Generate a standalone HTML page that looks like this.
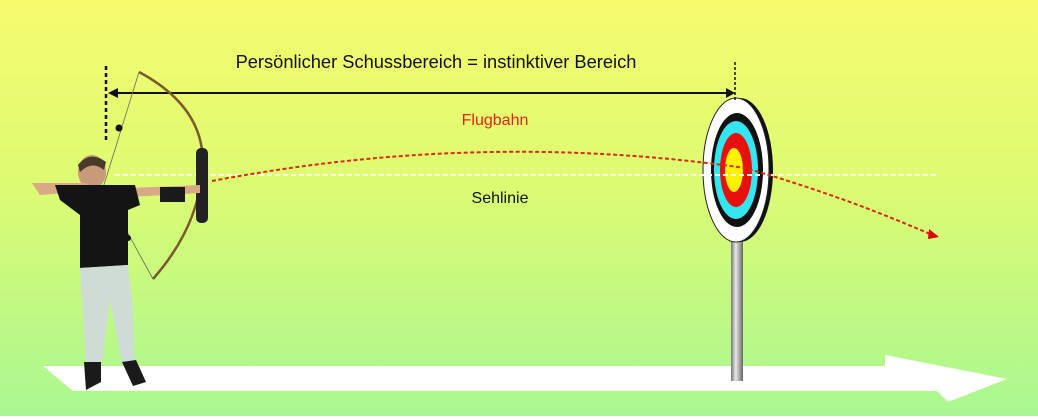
<!DOCTYPE html>
<html><head><meta charset="utf-8"><style>
html,body{margin:0;padding:0;width:1038px;height:419px;overflow:hidden}
</style></head><body>
<svg width="1038" height="419" viewBox="0 0 1038 419" xmlns="http://www.w3.org/2000/svg">
<defs>
<linearGradient id="bg" x1="0" y1="0" x2="0" y2="1">
<stop offset="0" stop-color="#f6fb6e"/><stop offset="0.45" stop-color="#dcfb72"/><stop offset="1" stop-color="#a9f792"/>
</linearGradient>
<linearGradient id="pole" x1="0" y1="0" x2="1" y2="0">
<stop offset="0" stop-color="#777"/><stop offset="0.4" stop-color="#e8e8e8"/><stop offset="1" stop-color="#666"/>
</linearGradient>
</defs>
<rect width="1038" height="416" fill="url(#bg)"/>
<rect y="416" width="1038" height="3" fill="#fff"/>
<polygon points="43,366 885,366 885,355 1007,379 948,402 937,391 73,391" fill="#fff"/>
<rect x="731" y="240" width="12" height="141" fill="url(#pole)"/>
<ellipse cx="740" cy="170" rx="33" ry="72" fill="#111"/>
<ellipse cx="736" cy="170" rx="33" ry="72" fill="#fff" stroke="#222" stroke-width="1"/>
<ellipse cx="737" cy="170" rx="26" ry="57" fill="#111"/>
<ellipse cx="736" cy="170" rx="22" ry="49" fill="#33e6f2"/>
<ellipse cx="736" cy="170" rx="16" ry="37" fill="#e8100c"/>
<ellipse cx="734" cy="170" rx="9" ry="22" fill="#fff200"/>
<line x1="115" y1="175" x2="936" y2="175" stroke="#fff" stroke-width="2" stroke-dasharray="5,3"/>
<path d="M212,181 Q480,130 745,168 Q840,195 930,234" fill="none" stroke="#d82a10" stroke-width="2" stroke-dasharray="4,2.5"/>
<polygon points="929,229 939,237 928,239" fill="#d80000"/>
<line x1="106" y1="66" x2="106" y2="143" stroke="#111" stroke-width="2.5" stroke-dasharray="4,3"/>
<line x1="735" y1="62" x2="735" y2="102" stroke="#111" stroke-width="1.5" stroke-dasharray="3,2"/>
<line x1="115" y1="93" x2="728" y2="93" stroke="#111" stroke-width="2"/>
<polygon points="108,93 118,88 118,98" fill="#111"/>
<polygon points="735,93 726,88 726,98" fill="#111"/>
<path d="M139,72 Q210,110 202,175 Q196,230 153,279" fill="none" stroke="#7a5a2a" stroke-width="2.5"/>
<line x1="139" y1="72" x2="103" y2="188" stroke="#666" stroke-width="0.8"/>
<line x1="103" y1="188" x2="153" y2="279" stroke="#666" stroke-width="0.8"/>
<rect x="196" y="148" width="12" height="75" rx="5" fill="#222"/>
<circle cx="119" cy="128" r="3.5" fill="#111"/>
<circle cx="128" cy="238" r="3" fill="#111"/>
<ellipse cx="92" cy="172" rx="14" ry="17" fill="#c79a7a"/>
<path d="M78,165 Q90,150 106,162 L104,170 Q92,160 80,172 Z" fill="#4a3a2a"/>
<path d="M32,183 L85,183 L100,190 L80,192 L40,195 Z" fill="#d9a887"/>
<path d="M130,188 L200,185 L200,193 L130,197 Z" fill="#d9a887"/>
<rect x="160" y="187" width="25" height="15" fill="#1a1a1a"/>
<path d="M55,185 L135,185 L140,205 L128,210 L128,265 L80,268 L80,215 L60,200 Z" fill="#141414"/>
<path d="M80,268 L128,265 L132,300 L135,362 L122,364 L110,300 L102,362 L86,363 L82,300 Z" fill="#cfdcd5"/>
<path d="M84,362 L101,362 L101,382 L86,390 Z" fill="#1a1a1a"/>
<path d="M122,362 L136,360 L146,382 L133,386 Z" fill="#1a1a1a"/>
<g font-family="Liberation Sans, sans-serif" text-anchor="middle">
<text x="436" y="68" font-size="18.3" fill="#111">Persönlicher Schussbereich = instinktiver Bereich</text>
<text x="495" y="125" font-size="16" fill="#e0241a">Flugbahn</text>
<text x="500" y="203" font-size="16" fill="#111">Sehlinie</text>
</g>
</svg>
</body></html>
